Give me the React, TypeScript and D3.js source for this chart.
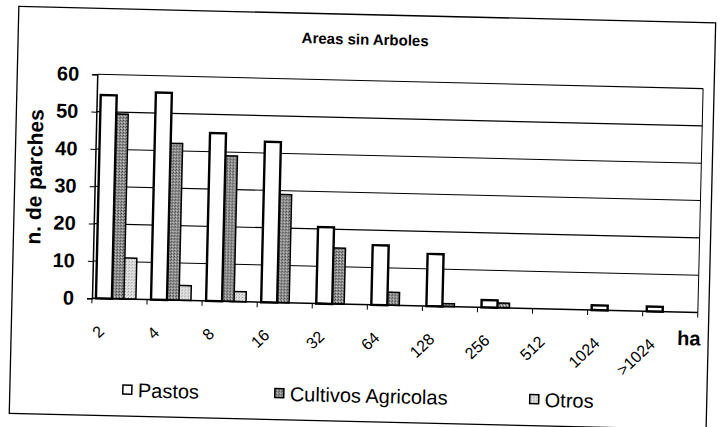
import React, { useEffect, useRef } from 'react';
import * as d3 from 'd3';

const categories = ['2', '4', '8', '16', '32', '64', '128', '256', '512', '1024', '>1024'];
const pastos = [54.5, 55.5, 45, 43, 20.5, 16, 14, 2, 0, 1.3, 1.3];
const cultivos = [49.5, 42, 39, 29, 15, 3.5, 0.8, 1.3, 0, 0, 0];
const otros = [11, 4, 2.7, 0, 0, 0, 0, 0, 0, 0, 0];
const seriesNames = ['Pastos', 'Cultivos Agricolas', 'Otros'];
const yTicks = [0, 10, 20, 30, 40, 50, 60];

const W = 722;
const H = 427;
const FONT = "'Liberation Sans', Arial, sans-serif";

export default function App() {
  const ref = useRef<SVGSVGElement>(null);

  useEffect(() => {
    const svg = d3.select(ref.current);
    svg.selectAll('*').remove();

    const defs = svg.append('defs');
    const pc = defs.append('pattern').attr('id', 'pCult').attr('width', 3).attr('height', 3)
      .attr('patternUnits', 'userSpaceOnUse');
    pc.append('rect').attr('width', 3).attr('height', 3).attr('fill', '#949494');
    pc.append('rect').attr('x', 0).attr('y', 0).attr('width', 1).attr('height', 1).attr('fill', '#333');
    pc.append('rect').attr('x', 2).attr('y', 1).attr('width', 1).attr('height', 1).attr('fill', '#555');
    pc.append('rect').attr('x', 1).attr('y', 2).attr('width', 1).attr('height', 1).attr('fill', '#d8d8d8');

    const po = defs.append('pattern').attr('id', 'pOtros').attr('width', 3).attr('height', 3)
      .attr('patternUnits', 'userSpaceOnUse');
    po.append('rect').attr('width', 3).attr('height', 3).attr('fill', '#e4e4e4');
    po.append('rect').attr('x', 0).attr('y', 0).attr('width', 1).attr('height', 1).attr('fill', '#8a8a8a');
    po.append('rect').attr('x', 2).attr('y', 1).attr('width', 1).attr('height', 1).attr('fill', '#b0b0b0');

    const fills = ['#fff', 'url(#pCult)', 'url(#pOtros)'];
    const values = [pastos, cultivos, otros];

    // the scan is tilted a little clockwise
    const g = svg.append('g').attr('transform', 'rotate(1.35)');

    // outer chart border
    g.append('rect').attr('x', 19).attr('y', 6).attr('width', 697).attr('height', 407)
      .attr('fill', 'none').attr('stroke', '#000').attr('stroke-width', 1.3);

    g.append('text').attr('x', 366).attr('y', 36).attr('text-anchor', 'middle')
      .attr('font-family', FONT).attr('font-size', 15).attr('font-weight', 'bold')
      .text('Areas sin Arboles');

    const left = 99, right = 705, top = 72, bottom = 296;

    const x0 = d3.scaleBand<string>().domain(categories).range([left, right])
      .paddingInner(0.275).paddingOuter(0.1375).align(0.26);
    const bw = x0.bandwidth();
    const barW = bw * 0.4;
    const x1 = d3.scalePoint<string>().domain(seriesNames).range([0, bw - barW]);
    const y = d3.scaleLinear().domain([0, 60]).range([bottom, top]);

    // grid
    g.append('g').selectAll('line').data(yTicks.filter(t => t > 0)).enter().append('line')
      .attr('x1', left).attr('x2', right).attr('y1', d => y(d)).attr('y2', d => y(d))
      .attr('stroke', '#000').attr('stroke-width', 1.1);
    g.append('line').attr('x1', right).attr('x2', right).attr('y1', y(60)).attr('y2', y(0))
      .attr('stroke', '#000').attr('stroke-width', 1);

    // bars, last series behind
    [2, 1, 0].forEach(si => {
      g.append('g').selectAll('rect').data(values[si]).enter().append('rect')
        .attr('x', (d, i) => (x0(categories[i]) as number) + (x1(seriesNames[si]) as number))
        .attr('y', d => y(d))
        .attr('width', barW)
        .attr('height', d => y(0) - y(d))
        .attr('fill', fills[si])
        .attr('stroke', d => (d > 0 ? '#000' : 'none'))
        .attr('stroke-width', si === 0 ? 2.4 : 1.5);
    });

    // y axis
    const yAxis = g.append('g').attr('transform', `translate(${left},0)`)
      .call(d3.axisLeft(y).tickValues(yTicks).tickSize(5).tickPadding(13));
    yAxis.select('.domain').attr('stroke', '#000').attr('stroke-width', 1.5);
    yAxis.selectAll('text').attr('font-family', FONT).attr('font-size', 20)
      .attr('font-weight', 'bold').attr('fill', '#000');

    // x axis, ticks between categories
    const step = x0.step();
    g.append('line').attr('x1', left).attr('x2', right).attr('y1', y(0)).attr('y2', y(0))
      .attr('stroke', '#000').attr('stroke-width', 1.5);
    g.append('g').selectAll('line').data(d3.range(categories.length + 1)).enter().append('line')
      .attr('x1', i => left + i * step).attr('x2', i => left + i * step)
      .attr('y1', y(0)).attr('y2', y(0) + 5).attr('stroke', '#000');

    g.append('g').selectAll('text').data(categories).enter().append('text')
      .attr('transform', d => `translate(${(x0(d) as number) + bw / 2 - 10},${y(0) + 34}) rotate(-45)`)
      .attr('text-anchor', 'end')
      .attr('font-family', FONT).attr('font-size', 16)
      .text(d => d);

    g.append('text').attr('x', 685).attr('y', 329)
      .attr('font-family', FONT).attr('font-size', 20).attr('font-weight', 'bold').text('ha');

    g.append('text').attr('transform', 'translate(46,176) rotate(-90)').attr('text-anchor', 'middle')
      .attr('font-family', FONT).attr('font-size', 21).attr('font-weight', 'bold')
      .text('n. de parches');

    // legend
    const legendX = [132, 284, 539];
    seriesNames.forEach((name, i) => {
      g.append('rect').attr('x', legendX[i]).attr('y', 382).attr('width', 9).attr('height', 9)
        .attr('fill', fills[i]).attr('stroke', '#000').attr('stroke-width', 1.5);
      g.append('text').attr('x', legendX[i] + 15).attr('y', 394)
        .attr('font-family', FONT).attr('font-size', 20).text(name);
    });
  }, []);

  return (
    <div style={{ position: 'absolute', left: 0, top: 0 }}>
      <svg ref={ref} width={W} height={H} style={{ display: 'block', background: '#fff' }} />
    </div>
  );
}
